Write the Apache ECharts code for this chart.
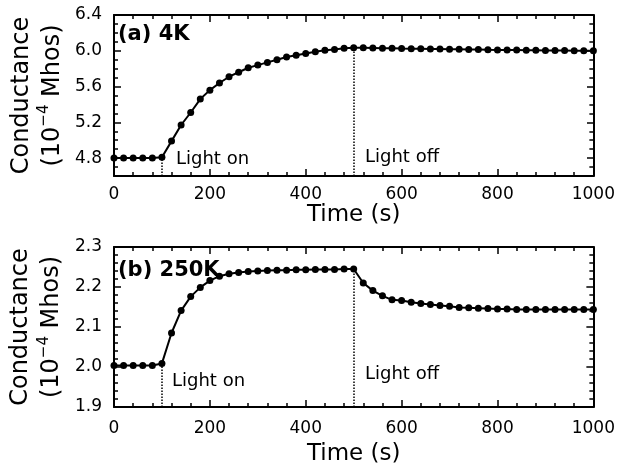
<!DOCTYPE html>
<html>
<head>
<meta charset="utf-8">
<script src="https://cdn.jsdelivr.net/npm/echarts@6/dist/echarts.min.js"></script>
<style>
html,body{margin:0;padding:0;background:#fff}
#main{width:618px;height:476px}
</style>
</head>
<body>
<div id="main"></div>
<script>
// sampling times (s)
var time = [0,20,40,60,80,100,120,140,160,180,200,220,240,260,280,300,320,340,360,380,
  400,420,440,460,480,500,520,540,560,580,600,620,640,660,680,700,720,740,760,780,
  800,820,840,860,880,900,920,940,960,980,1000];
// (a) 4K, conductance in 1e-4 Mhos
var g4K = [4.80,4.80,4.80,4.80,4.80,4.81,4.99,5.17,5.31,5.46,5.56,5.64,5.71,5.76,5.81,5.84,5.87,5.90,5.93,5.95,
  5.97,5.99,6.005,6.015,6.027,6.035,6.033,6.031,6.029,6.027,6.025,6.024,6.022,6.020,6.019,6.017,6.016,6.014,6.013,6.011,
  6.010,6.009,6.008,6.006,6.005,6.004,6.003,6.002,6.001,6.000,5.999];
// (b) 250K
var g250K = [2.004,2.004,2.004,2.004,2.004,2.009,2.085,2.141,2.176,2.199,2.216,2.227,2.233,2.236,2.239,2.240,2.241,2.242,2.242,2.243,
  2.243,2.244,2.244,2.244,2.245,2.245,2.210,2.191,2.178,2.168,2.166,2.162,2.159,2.156,2.154,2.152,2.149,2.148,2.147,2.146,
  2.145,2.145,2.144,2.144,2.144,2.144,2.144,2.144,2.144,2.144,2.144];
var lightOn = 100, lightOff = 500;
var iOn = time.indexOf(lightOn), iOff = time.indexOf(lightOff);

var FONT = 'DejaVu Sans';
var tickStyle = {color:'#000', width:1.5};
var lineStyle = {color:'#000', width:2};

// plot boxes
var L = 114, W = 480;
var top4K = 15, h4K = 161;     // 4.6 .. 6.4
var top250 = 247, h250 = 160;  // 1.9 .. 2.3

function pairs(v){
  return time.map(function(t,i){ return [t, v[i]]; });
}
function fmt(v){ return v.toFixed(1); }

function xAx(grid, pos, labelMargin, nameGap){
  return {
    type:'value', gridIndex:grid, position:pos, min:0, max:1000, interval:200,
    name: pos=='bottom' ? 'Time (s)' : '', nameLocation:'middle', nameGap:nameGap,
    nameTextStyle:{fontFamily:FONT, fontSize:23, color:'#000'},
    axisLine:{show:true, onZero:false, lineStyle:lineStyle},
    axisTick:{show:true, inside:true, length:7, lineStyle:tickStyle},
    minorTick:{show:true, splitNumber:5, length:4, lineStyle:tickStyle},
    axisLabel:{show:pos=='bottom', margin:labelMargin, formatter:function(v){ return String(v); },
      fontFamily:FONT, fontSize:17, color:'#000'},
    splitLine:{show:false}
  };
}

var yName = '{a|Conductance}\n{a|(10}{s|\u22124}{a| Mhos)}';
var yNameStyle = {
  rich:{
    a:{fontFamily:FONT, fontSize:24, lineHeight:31, color:'#000'},
    s:{fontFamily:FONT, fontSize:15, lineHeight:19, verticalAlign:'top', color:'#000'}
  }
};

var yAxes = [];
// grid 0: 4.6..6.4 with short ticks every 0.1 (box + name)
['left','right'].forEach(function(p){
  yAxes.push({type:'value', gridIndex:0, position:p, min:4.6, max:6.4, interval:0.1,
    name: p=='left' ? yName : '', nameLocation:'middle', nameGap:46, nameTextStyle:yNameStyle,
    axisLine:{show:true, onZero:false, lineStyle:lineStyle},
    axisTick:{show:true, inside:true, length:4, lineStyle:tickStyle},
    axisLabel:{show:false}, splitLine:{show:false}});
});
// grid 1: 1.9..2.3
['left','right'].forEach(function(p){
  yAxes.push({type:'value', gridIndex:1, position:p, min:1.9, max:2.3, interval:0.1,
    name: p=='left' ? yName : '', nameLocation:'middle', nameGap:46, nameTextStyle:yNameStyle,
    axisLine:{show:true, onZero:false, lineStyle:lineStyle},
    axisTick:{show:true, inside:true, length:7, lineStyle:tickStyle},
    minorTick:{show:true, splitNumber:5, length:4, lineStyle:tickStyle},
    axisLabel:{show:p=='left', formatter:fmt, margin:12, fontFamily:FONT, fontSize:17, color:'#000'},
    splitLine:{show:false}});
});
// grid 2: same scale as grid 0 but starting at 4.8, for the long ticks and labels every 0.4
['left','right'].forEach(function(p){
  yAxes.push({type:'value', gridIndex:2, position:p, min:4.8, max:6.4, interval:0.4,
    axisLine:{show:false},
    axisTick:{show:true, inside:true, length:7, lineStyle:tickStyle},
    axisLabel:{show:p=='left', formatter:fmt, margin:12, fontFamily:FONT, fontSize:17, color:'#000'},
    splitLine:{show:false}});
});

function dotted(x, y0, y1){
  return [{coord:[x, y0]}, {coord:[x, y1]}];
}

function series(name, v, xi, yi, ymin){
  return {
    name:name, type:'line', xAxisIndex:xi, yAxisIndex:yi, data:pairs(v),
    symbol:'circle', symbolSize:7, showSymbol:true,
    itemStyle:{color:'#000'}, lineStyle:{color:'#000', width:2},
    animation:false, z:3,
    markLine:{
      silent:true, symbol:['none','none'], label:{show:false}, animation:false,
      lineStyle:{color:'#000', type:'dotted', width:1.5},
      data:[dotted(lightOn, ymin, v[iOn]), dotted(lightOff, ymin, v[iOff])]
    }
  };
}

function txt(s, x, y, bold){
  return {type:'text', x:x, y:y, z:10,
    style:{text:s, font:(bold ? 'bold 21px ' : '18px ') + '"DejaVu Sans"', fill:'#000', verticalAlign:'middle'}};
}

var option = {
  backgroundColor:'#fff',
  animation:false,
  grid:[
    {left:L, top:top4K, width:W, height:h4K},
    {left:L, top:top250, width:W, height:h250},
    {left:L, top:top4K, width:W, height:h4K * 1.6 / 1.8}
  ],
  xAxis:[
    xAx(0,'bottom',10,28), xAx(0,'top',0,0),
    xAx(1,'bottom',13,36), xAx(1,'top',0,0),
    {type:'value', gridIndex:2, min:0, max:1000, show:false}
  ],
  yAxis:yAxes,
  series:[
    series('4K', g4K, 0, 0, 4.6),
    series('250K', g250K, 2, 2, 1.9)
  ],
  graphic:[
    txt('(a) 4K', 118, 35, true),
    txt('(b) 250K', 118, 271, true),
    txt('Light on', 176, 159),
    txt('Light off', 365, 157),
    txt('Light on', 172, 381),
    txt('Light off', 365, 374)
  ]
};

var chart = echarts.init(document.getElementById('main'));
chart.setOption(option);
</script>
</body>
</html>
